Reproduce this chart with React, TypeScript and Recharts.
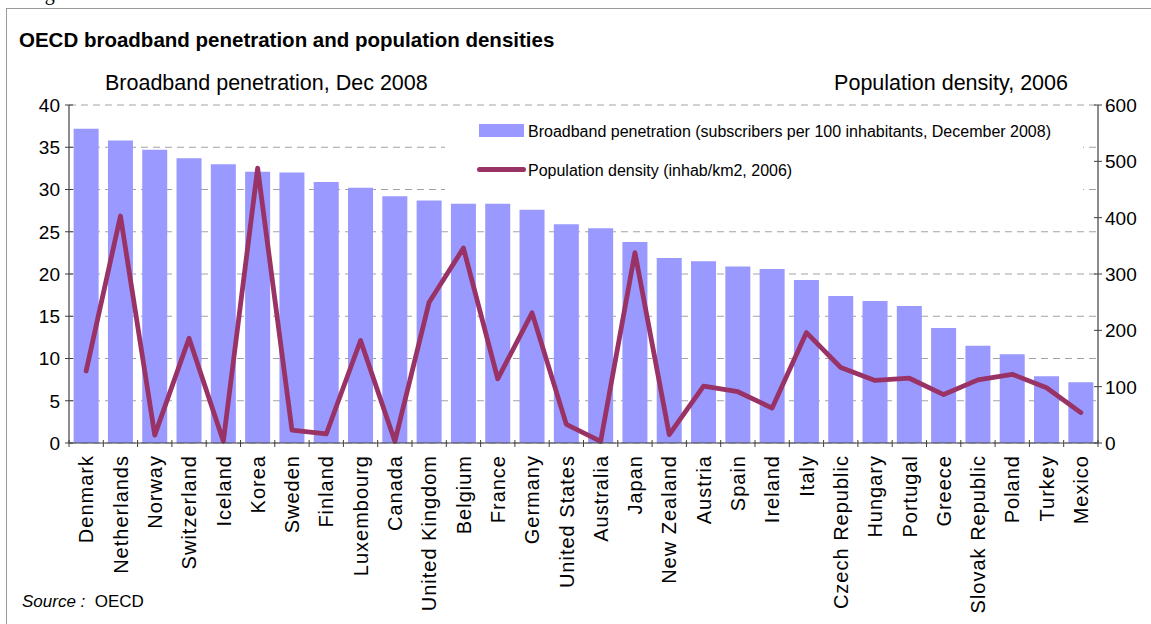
import React from "react";
import {
  Bar,
  CartesianGrid,
  ComposedChart,
  Line,
  XAxis,
  YAxis,
} from "recharts";

const countries = [
  "Denmark", "Netherlands", "Norway", "Switzerland", "Iceland", "Korea",
  "Sweden", "Finland", "Luxembourg", "Canada", "United Kingdom", "Belgium",
  "France", "Germany", "United States", "Australia", "Japan", "New Zealand",
  "Austria", "Spain", "Ireland", "Italy", "Czech Republic", "Hungary",
  "Portugal", "Greece", "Slovak Republic", "Poland", "Turkey", "Mexico",
];

// subscribers per 100 inhabitants, Dec 2008
const broadband = [
  37.2, 35.8, 34.7, 33.7, 33.0, 32.1, 32.0, 30.9, 30.2, 29.2, 28.7, 28.3,
  28.3, 27.6, 25.9, 25.4, 23.8, 21.9, 21.5, 20.9, 20.6, 19.3, 17.4, 16.8,
  16.2, 13.6, 11.5, 10.5, 7.9, 7.2,
];

// inhab/km2, 2006
const density = [
  128, 403, 14, 186, 3, 488, 23, 16, 182, 3, 250, 346, 114, 231, 33, 3, 338,
  15, 101, 91, 62, 196, 134, 111, 115, 86, 112, 122, 98, 54,
];

const leftTicks = [0, 5, 10, 15, 20, 25, 30, 35, 40];
const rightTicks = [0, 100, 200, 300, 400, 500, 600];

const rows = countries.map((country, i) => ({
  country,
  broadband: broadband[i],
  density: density[i],
}));

const FONT = "'Liberation Sans', Arial, Helvetica, sans-serif";
const AXIS = "#404040";
const BAR = "#9999FF";
const LINE = "#993366";

const W = 1151;
const H = 624;
const MARGIN = { top: 105, right: 3, bottom: 11, left: 19 };
const Y_W = 50;
const PLOT_W = W - MARGIN.left - MARGIN.right - 2 * Y_W;
const BAND = PLOT_W / countries.length;
const TICK_GAP = 7;

function CategoryTick(props: any) {
  const { x, y, payload, index } = props;
  return (
    <g>
      <line x1={x - BAND / 2} x2={x - BAND / 2} y1={y - 3} y2={y + 4} stroke={AXIS} />
      {index === countries.length - 1 && (
        <line x1={x + BAND / 2} x2={x + BAND / 2} y1={y - 3} y2={y + 4} stroke={AXIS} />
      )}
      <text
        transform={`translate(${x},${y + 12}) rotate(-90)`}
        textAnchor="end"
        dy="0.36em"
        fontSize={20}
        letterSpacing={1}
        fontFamily={FONT}
        fill="#000"
      >
        {payload.value}
      </text>
    </g>
  );
}

function LeftTick(props: any) {
  const { x, y, payload } = props;
  const ax = x + TICK_GAP;
  return (
    <g>
      <line x1={ax - 4} x2={ax + 4} y1={y} y2={y} stroke={AXIS} />
      <text x={x - 2} y={y} dy="0.36em" textAnchor="end" fontSize={19} fontFamily={FONT} fill="#000">
        {payload.value}
      </text>
    </g>
  );
}

function RightTick(props: any) {
  const { x, y, payload } = props;
  const ax = x - TICK_GAP;
  return (
    <g>
      <line x1={ax - 4} x2={ax + 4} y1={y} y2={y} stroke={AXIS} />
      <text x={x} y={y} dy="0.36em" textAnchor="start" fontSize={19} fontFamily={FONT} fill="#000">
        {payload.value}
      </text>
    </g>
  );
}

const abs = (left: number, top: number, extra: React.CSSProperties = {}): React.CSSProperties => ({
  position: "absolute",
  left,
  top,
  whiteSpace: "nowrap",
  lineHeight: 1,
  fontFamily: FONT,
  color: "#000",
  ...extra,
});

export default function App() {
  return (
    <div style={{ position: "absolute", left: 0, top: 0, width: W, height: H, background: "#fff", overflow: "hidden" }}>
      <div style={abs(28, -17, { fontFamily: "'Liberation Serif', 'Times New Roman', serif", fontSize: 20 })}>Figure</div>
      <div
        style={{
          position: "absolute",
          left: 6,
          top: 8,
          right: -2,
          bottom: -2,
          borderLeft: "1.5px solid #9a9a9a",
          borderTop: "1.5px solid #9a9a9a",
        }}
      />
      <ComposedChart
        width={W}
        height={H}
        data={rows}
        margin={MARGIN}
        barCategoryGap="13.5%"
        style={{ position: "absolute", left: 0, top: 0 }}
      >
        <CartesianGrid yAxisId="left" vertical={false} stroke="#a3a3a3" strokeDasharray="7 5" />
        <XAxis
          dataKey="country"
          interval={0}
          height={170}
          tickSize={0}
          tickMargin={0}
          tickLine={false}
          axisLine={{ stroke: AXIS, strokeWidth: 1.2 }}
          tick={<CategoryTick />}
        />
        <YAxis
          yAxisId="left"
          width={Y_W}
          domain={[0, 40]}
          ticks={leftTicks}
          interval={0}
          tickSize={0}
          tickMargin={TICK_GAP}
          tickLine={false}
          axisLine={{ stroke: AXIS, strokeWidth: 1.2 }}
          tick={<LeftTick />}
        />
        <YAxis
          yAxisId="right"
          orientation="right"
          width={Y_W}
          domain={[0, 600]}
          ticks={rightTicks}
          interval={0}
          tickSize={0}
          tickMargin={TICK_GAP}
          tickLine={false}
          axisLine={{ stroke: AXIS, strokeWidth: 1.2 }}
          tick={<RightTick />}
        />
        <Bar yAxisId="left" dataKey="broadband" fill={BAR} isAnimationActive={false} />
        <Line
          yAxisId="right"
          dataKey="density"
          type="linear"
          stroke={LINE}
          strokeWidth={4.8}
          strokeLinejoin="round"
          strokeLinecap="round"
          dot={false}
          isAnimationActive={false}
        />
      </ComposedChart>

      <div style={abs(19, 29.5, { fontSize: 20.5, fontWeight: "bold" })}>
        OECD broadband penetration and population densities
      </div>
      <div style={abs(105, 73, { fontSize: 21.5 })}>Broadband penetration, Dec 2008</div>
      <div style={abs(1068, 73, { fontSize: 21.5, transform: "translateX(-100%)" })}>Population density, 2006</div>

      <div style={{ position: "absolute", left: 445, top: 112, width: 638, height: 85, background: "#fff" }}>
        <div style={{ position: "absolute", left: 34, top: 12, width: 45, height: 13, background: BAR }} />
        <div style={abs(83, 11.5, { fontSize: 16 })}>
          Broadband penetration (subscribers per 100 inhabitants, December 2008)
        </div>
        <div style={{ position: "absolute", left: 32, top: 54.5, width: 49, height: 5, borderRadius: 3, background: LINE }} />
        <div style={abs(83, 51, { fontSize: 16 })}>Population density (inhab/km2, 2006)</div>
      </div>

      <div style={abs(22, 592.5, { fontSize: 17 })}>
        <span style={{ fontStyle: "italic" }}>Source :</span>&nbsp; OECD
      </div>
    </div>
  );
}
